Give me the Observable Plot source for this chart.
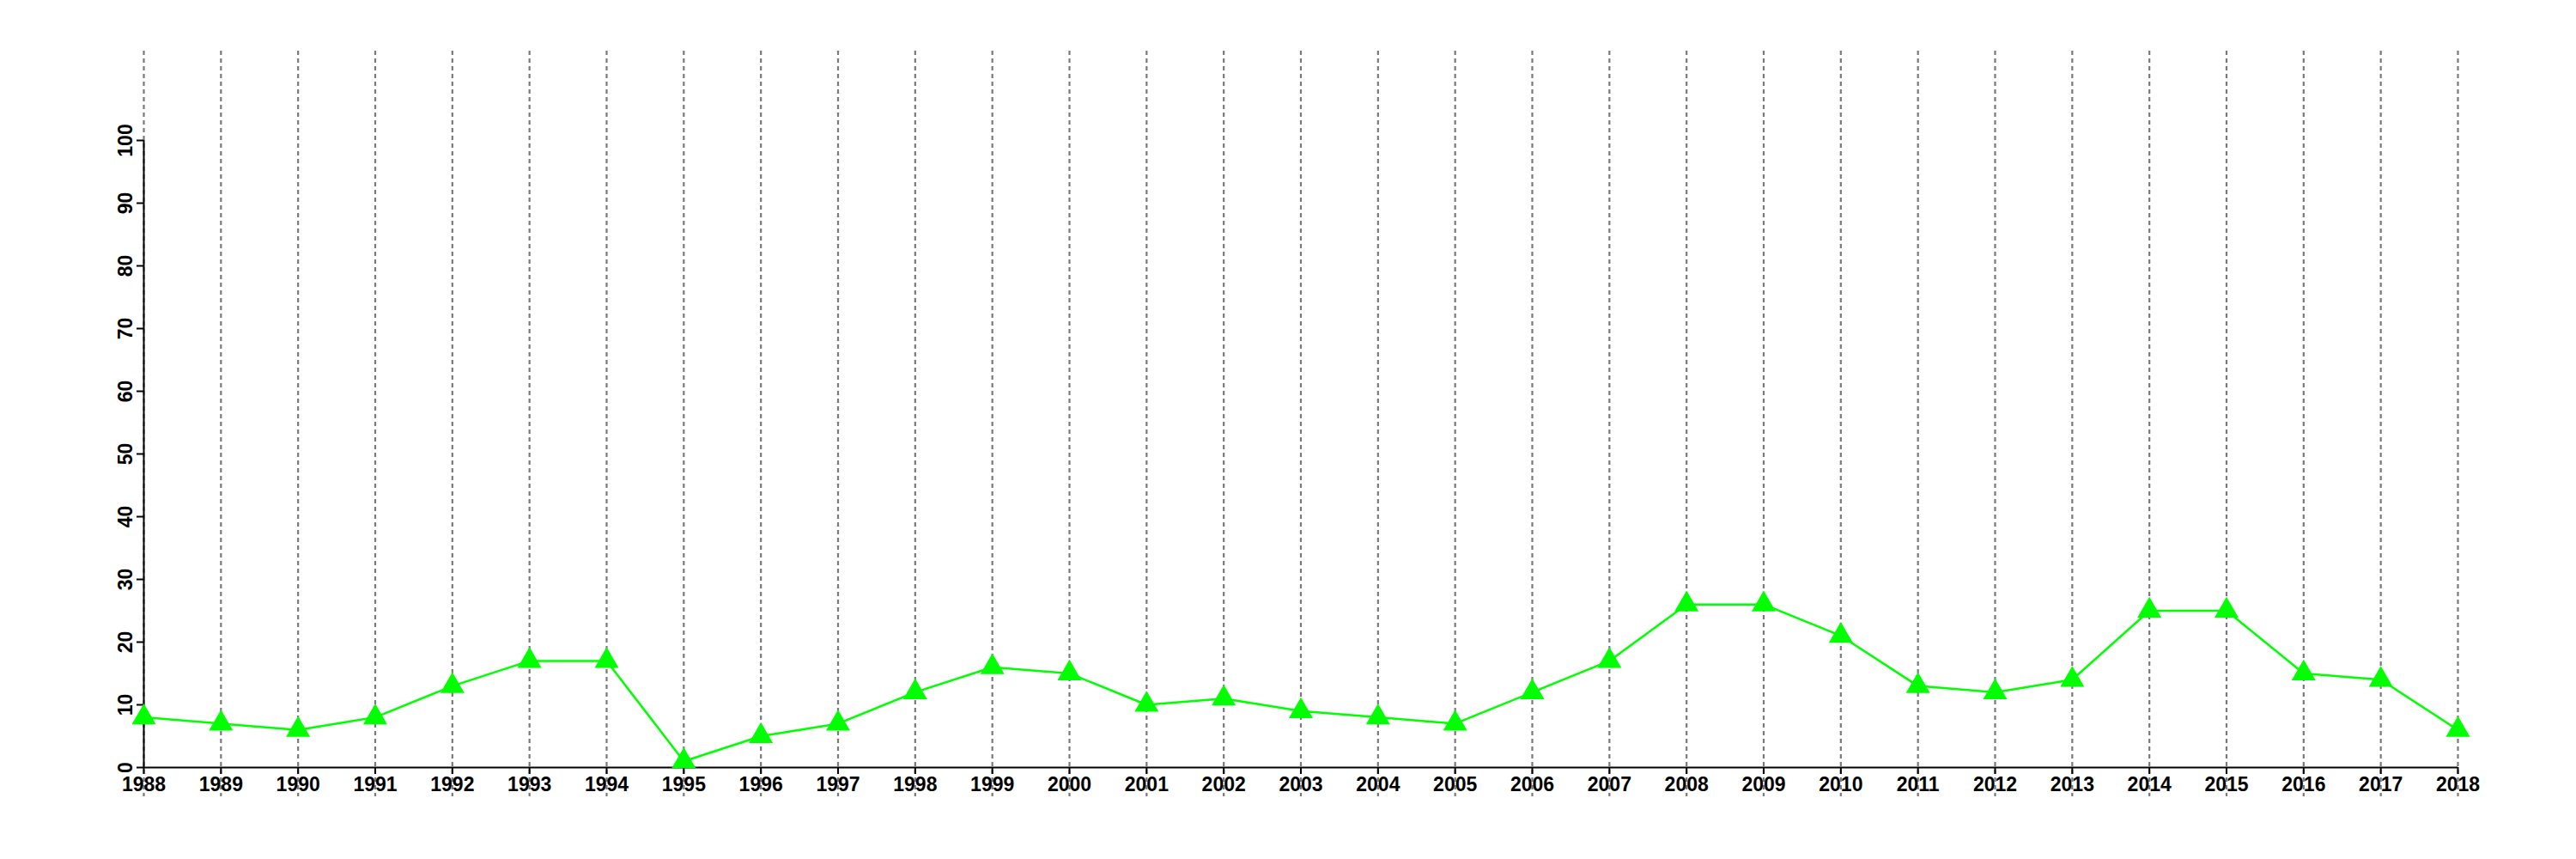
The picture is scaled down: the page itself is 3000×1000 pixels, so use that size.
<!DOCTYPE html>
<html>
<head>
<meta charset="utf-8">
<script src="https://cdn.jsdelivr.net/npm/d3@7"></script>
<script src="https://cdn.jsdelivr.net/npm/@observablehq/plot@0.6"></script>
<style>
  html, body { margin: 0; padding: 0; background: #ffffff; }
</style>
</head>
<body>
<div id="chart"></div>
<script>
const years = [1988, 1989, 1990, 1991, 1992, 1993, 1994, 1995, 1996, 1997, 1998, 1999, 2000, 2001, 2002, 2003, 2004, 2005, 2006, 2007, 2008, 2009, 2010, 2011, 2012, 2013, 2014, 2015, 2016, 2017, 2018];
const values = [8, 7, 6, 8, 13, 17, 17, 1, 5, 7, 12, 16, 15, 10, 11, 9, 8, 7, 12, 17, 26, 26, 21, 13, 12, 14, 25, 25, 15, 14, 6];
const yTicks = [0, 10, 20, 30, 40, 50, 60, 70, 80, 90, 100];

const data = years.map((year, i) => ({year, value: values[i]}));

const chart = Plot.plot({
  width: 3000,
  height: 1000,
  marginLeft: 167,
  marginRight: 138,
  marginTop: 163,
  marginBottom: 107,
  style: {
    fontFamily: "'Liberation Sans', Arial, Helvetica, sans-serif",
    fontSize: "23px",
    fontWeight: "bold",
    background: "#ffffff",
    color: "#000000"
  },
  x: {domain: [years[0], years[years.length - 1]]},
  y: {domain: [yTicks[0], yTicks[yTicks.length - 1]]},
  marks: [
    Plot.ruleX(years, {stroke: "#7a7a7a", strokeWidth: 2.2, strokeDasharray: "5,4", insetTop: -104, insetBottom: -34}),
    Plot.ruleX([years[0]], {stroke: "#000000", strokeWidth: 2}),
    Plot.ruleY([yTicks[0]], {stroke: "#000000", strokeWidth: 2}),
    Plot.axisX({ticks: years, tickFormat: "d", tickSize: 8, tickPadding: 3, strokeWidth: 2, label: null}),
    Plot.axisY({ticks: yTicks, tickSize: 8, tickRotate: -90, tickPadding: 6, strokeWidth: 2, label: null}),
    Plot.line(data, {x: "year", y: "value", stroke: "#00ff00", strokeWidth: 2.5}),
    Plot.dot(data, {x: "year", y: "value", symbol: "triangle", r: 10.4, fill: "#00ff00", stroke: "none"})
  ]
});

document.getElementById("chart").appendChild(chart);
</script>
</body>
</html>
